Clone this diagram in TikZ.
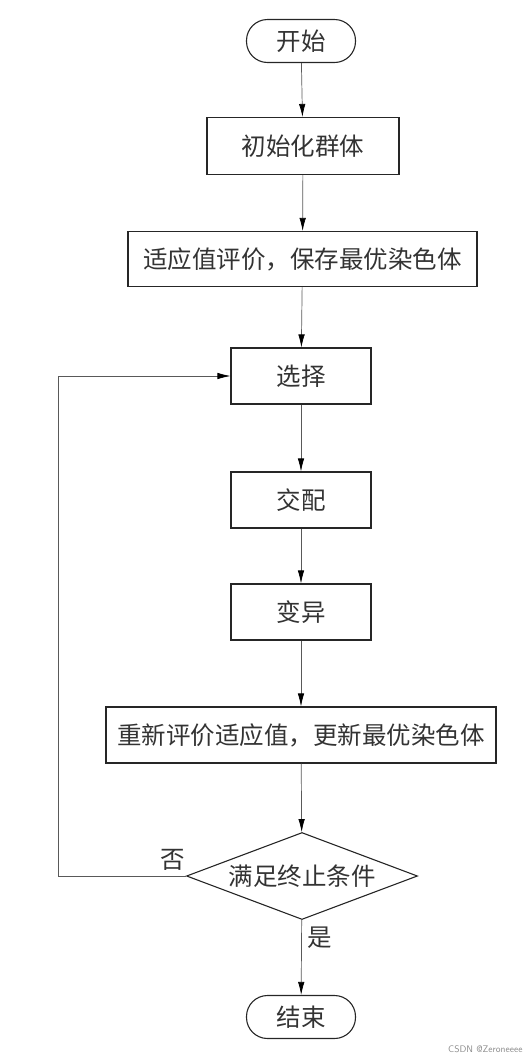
\documentclass[tikz,border=0pt]{standalone}
\usepackage{fontspec}
\newfontfamily\cjk{Noto Sans CJK SC}
\usetikzlibrary{shapes.geometric,arrows.meta}
\begin{document}
\begin{tikzpicture}[x=1pt,y=-1pt,
  font=\cjk\fontsize{24.5}{27}\selectfont,
  box/.style={draw=black!85,line width=1.1pt,inner sep=0pt,text=black!80},
  term/.style={box,rounded corners=21pt,minimum width=109pt,minimum height=43pt},
  proc/.style={box,minimum height=56pt},
  dec/.style={box,diamond,aspect=2.65,minimum width=231pt,minimum height=87pt},
  flow/.style={draw=black!65,line width=0.7pt,-{Latex[length=13pt,width=6.5pt,fill=black,color=black]}},
  lbl/.style={text=black!80}]
\useasboundingbox (0,0) rectangle (528,1061);
\node[term] (start) at (301,41) {开始};
\node[proc,minimum width=192pt,minimum height=57pt] (init) at (303,146) {初始化群体};
\node[proc,minimum width=349pt,minimum height=55pt] (fit) at (302.5,259) {适应值评价，保存最优染色体};
\node[proc,minimum width=140pt] (sel) at (301,376) {选择};
\node[proc,minimum width=140pt] (cross) at (301,500) {交配};
\node[proc,minimum width=140pt] (mut) at (301,612) {变异};
\node[proc,minimum width=390pt] (reval) at (301,735) {重新评价适应值，更新最优染色体};
\node[dec] (cond) at (302,876) {满足终止条件};
\node[term] (end) at (301,1017) {结束};
\coordinate (c1) at (58,876);
\coordinate (c2) at (58,376);
\node[lbl] (no) at (173,860) {否};
\node[lbl] (yes) at (320,938) {是};
\node[font=\sffamily\fontsize{9.5}{11}\selectfont,text=black!45,anchor=east] (wm) at (526,1049) {CSDN @Zeroneeee};
\draw[flow] (start) -- (init);
\draw[flow] (init) -- (fit);
\draw[flow] (fit) -- (sel);
\draw[flow] (sel) -- (cross);
\draw[flow] (cross) -- (mut);
\draw[flow] (mut) -- (reval);
\draw[flow] (reval) -- (cond);
\draw[flow] (cond) -- (end);
\draw[flow] (cond.west) -- (c1) -- (c2) -- (sel.west);
\end{tikzpicture}
\end{document}
